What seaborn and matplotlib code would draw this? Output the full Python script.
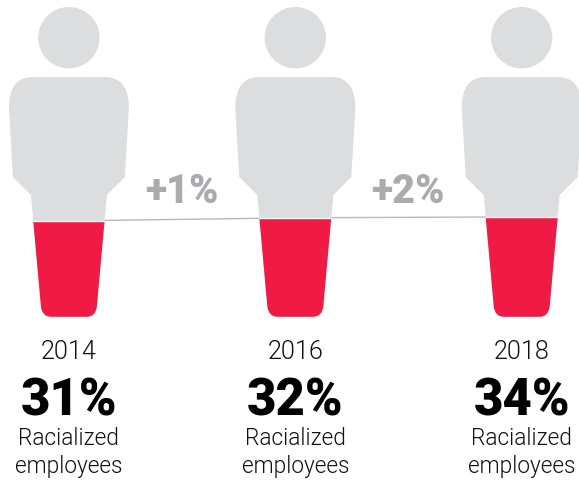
import matplotlib
matplotlib.use("Agg")
import matplotlib.pyplot as plt
import pandas as pd
import seaborn as sns
from matplotlib.path import Path
from matplotlib.patches import PathPatch
from matplotlib.transforms import Affine2D

years = ["2014", "2016", "2018"]
shares = ["31%", "32%", "34%"]
fill_levels = [31, 32, 32.3]
changes = ["+1%", "+2%"]
caption_top = "Racialized"
caption_bottom = "employees"

GREY = "#dcddde"
RED = "#f01b45"
W, H = 579, 480


def person_path():
    # body outline in pixels around the figure's centre line, y pointing down
    verts = [(0, 77), (36, 77), (60, 77), (60, 108), (56, 177), (38, 195), (28, 306),
             (27, 317), (17, 317), (-17, 317), (-27, 317), (-28, 306), (-38, 195),
             (-56, 177), (-60, 108), (-60, 77), (-36, 77), (0, 77)]
    codes = [Path.MOVETO, Path.LINETO, Path.CURVE3, Path.CURVE3, Path.LINETO, Path.LINETO,
             Path.LINETO, Path.CURVE3, Path.CURVE3, Path.LINETO, Path.CURVE3, Path.CURVE3,
             Path.LINETO, Path.LINETO, Path.LINETO, Path.CURVE3, Path.CURVE3, Path.CLOSEPOLY]
    return Path(verts, codes)


body = person_path()

sns.set_theme(style="white")
plt.rcParams["font.family"] = ["Roboto", "DejaVu Sans"]

fig = plt.figure(figsize=(W / 100, H / 100), dpi=100, facecolor="white")
ax = fig.add_axes([0, 0, 1, 1])

df = pd.DataFrame({"year": years, "full": [100, 100, 100], "fill": fill_levels})
sns.lineplot(data=df, x="year", y="fill", color="#b9babc", lw=1, ax=ax, zorder=1)
sns.barplot(data=df, x="year", y="full", color=GREY, saturation=1, width=0.8, ax=ax, zorder=2)
n_grey = len(ax.patches)
sns.barplot(data=df, x="year", y="fill", color=RED, saturation=1, width=0.8, ax=ax, zorder=3)

px_per_cat = 226.4
x0 = 68.9
ax.set_xlim(-x0 / px_per_cat, (W - x0) / px_per_cat)
base, px_per_pct = 317, 3.1
ax.set_ylim((base - H) / px_per_pct, base / px_per_pct)
ax.axis("off")

px = Affine2D().scale(1, -1).translate(0, H)
for i, year in enumerate(years):
    cx = ax.transData.transform((i, 0))[0]
    tr = Affine2D().translate(cx, 0) + px
    for bar in (ax.patches[i], ax.patches[n_grey + i]):
        bar.set_clip_path(body, tr)
    ax.add_artist(PathPatch(Path.unit_circle(), fc=GREY, ec="none", zorder=2,
                            transform=Affine2D().scale(30.7).translate(cx, 37.7) + px))

    fig.text(cx / W, 1 - 359 / H, year, ha="center", va="baseline", fontsize=18.2, fontweight=300, color="#111111")
    fig.text(cx / W, 1 - 415 / H, shares[i], ha="center", va="baseline", fontsize=36.5, fontweight=900, color="black")
    fig.text(cx / W, 1 - 445 / H, caption_top, ha="center", va="baseline", fontsize=16.3, fontweight=300, color="#111111")
    fig.text(cx / W, 1 - 473 / H, caption_bottom, ha="center", va="baseline", fontsize=16.3, fontweight=300, color="#111111")

for label, xp in zip(changes, [182, 407.5]):
    fig.text(xp / W, 1 - 203 / H, label, ha="center", va="baseline", fontsize=28.5, fontweight=900, color="#a9abae")

fig.savefig("out.png", dpi=100)
